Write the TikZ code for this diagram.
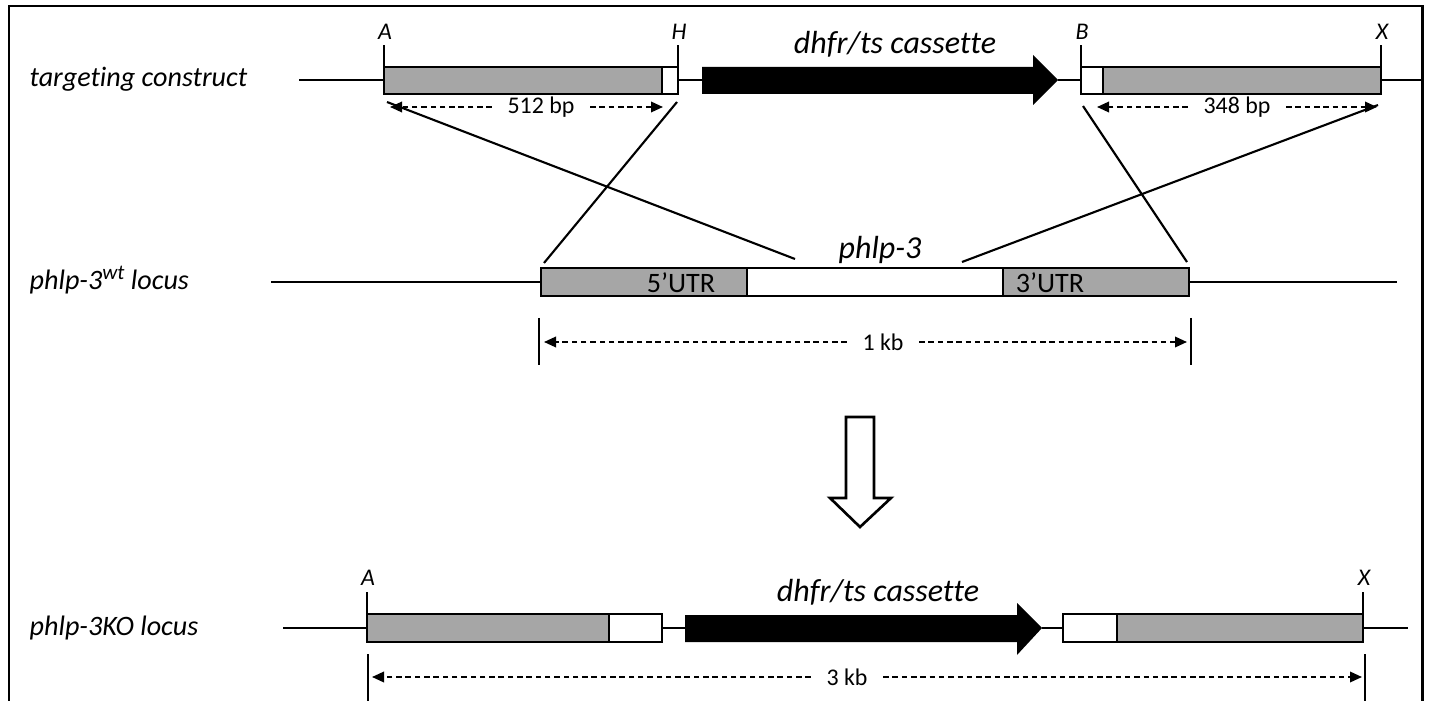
\documentclass[tikz,border=0pt]{standalone}
\usepackage{fontspec}
\setmainfont{Carlito}[Ligatures=NoCommon]
\usetikzlibrary{arrows.meta}
\definecolor{homgray}{RGB}{166,166,166}

\tikzset{
  dna/.style={line width=0.6pt},
  hom/.style={draw, line width=0.6pt, fill=homgray},
  utr/.style={draw, line width=0.6pt, fill=white},
  dimline/.style={line width=0.55pt, dash pattern=on 0.55mm off 0.38mm, -{Triangle[length=1.2mm,width=1.05mm]}},
  rowlabel/.style={anchor=west, inner sep=0pt, font=\fontsize{8pt}{9pt}\selectfont\itshape},
  biglabel/.style={inner sep=0pt, font=\fontsize{9.1pt}{10pt}\selectfont\itshape},
  sitelabel/.style={inner sep=0pt, font=\fontsize{6.8pt}{7pt}\selectfont\itshape},
  sizelabel/.style={inner xsep=1.5mm, inner ysep=0pt, font=\fontsize{6.8pt}{7pt}\selectfont},
  utrlabel/.style={inner sep=0pt, font=\fontsize{8pt}{9pt}\selectfont}
}

\begin{document}
\begin{tikzpicture}[x=0.1mm, y=-0.1mm]
  \useasboundingbox (0,0) rectangle (1430,701);
  % frame
  \draw[line width=0.85pt] (9,720) -- (9,6) -- (1422,6) -- (1422,720);

  % row labels
  \node[rowlabel] (lcon) at (29,79) {targeting construct};
  \node[rowlabel] (lwt) at (29,280) {phlp-3\textsuperscript{wt}\,locus};
  \node[rowlabel] (lko) at (29,628) {phlp-3KO locus};

  % targeting construct
  \draw[dna] (299,80) -- (384,80);
  \draw[dna] (678,80) -- (702,80);
  \draw[dna] (1058,80) -- (1081,80);
  \draw[dna] (1381,80) -- (1422,80);
  \draw[hom] (384,67) rectangle (662,94);
  \draw[utr] (662,67) rectangle (678,94);
  \draw[utr] (1081,67) rectangle (1103,94);
  \draw[hom] (1103,67) rectangle (1381,94);
  \fill (702,67) -- (1033,67) -- (1033,55) -- (1058,80) -- (1033,105) -- (1033,94) -- (702,94) -- cycle;
  \node[biglabel] (cas1) at (895,44) {dhfr/ts cassette};
  \foreach \x/\s in {384/A, 678/H, 1081/B, 1381/X} {
    \draw[dna] (\x,67) -- (\x,45);
    \node[sitelabel] at (\x+1,32) {\s};
  }
  \node[sizelabel] (d512) at (541,107) {512 bp};
  \draw[dimline] (d512.west) -- (390,107);
  \draw[dimline] (d512.east) -- (663,107);
  \node[sizelabel] (d348) at (1237,107) {348 bp};
  \draw[dimline] (d348.west) -- (1097,107);
  \draw[dimline] (d348.east) -- (1377,107);

  % crossover lines
  \coordinate (A1) at (387,102);
  \coordinate (H1) at (677,102);
  \coordinate (B1) at (1083,106);
  \coordinate (X1) at (1378,105);
  \coordinate (A2) at (795,259);
  \coordinate (H2) at (544,263);
  \coordinate (B2) at (1187,262);
  \coordinate (X2) at (962,262);
  \draw[dna] (A1) -- (A2);
  \draw[dna] (H1) -- (H2);
  \draw[dna] (B1) -- (B2);
  \draw[dna] (X1) -- (X2);

  % wild type locus
  \draw[dna] (271,282) -- (541,282);
  \draw[dna] (1189,282) -- (1397,282);
  \draw[hom] (541,268) rectangle (747,296);
  \draw[utr] (747,268) rectangle (1003,296);
  \draw[hom] (1003,268) rectangle (1189,296);
  \node[utrlabel] (u5) at (681,283) {5’UTR};
  \node[utrlabel] (u3) at (1050,283) {3’UTR};
  \node[biglabel] (gene) at (880,250) {phlp-3};
  \draw[dna] (539,318) -- (539,365);
  \draw[dna] (1191,318) -- (1191,365);
  \node[sizelabel] (d1kb) at (883,342) {1 kb};
  \draw[dimline] (d1kb.west) -- (544,342);
  \draw[dimline] (d1kb.east) -- (1187,342);

  % recombination arrow
  \draw[line width=0.75pt, fill=white] (846,417) -- (874,417) -- (874,498) -- (891,498)
    -- (860,527) -- (830,498) -- (846,498) -- cycle;

  % knockout locus
  \draw[dna] (283,628) -- (367,628);
  \draw[dna] (662,628) -- (685,628);
  \draw[dna] (1042,628) -- (1063,628);
  \draw[dna] (1363,628) -- (1408,628);
  \draw[hom] (367,614) rectangle (609,642);
  \draw[utr] (609,614) rectangle (662,642);
  \draw[utr] (1063,614) rectangle (1117,642);
  \draw[hom] (1117,614) rectangle (1363,642);
  \fill (685,615) -- (1017,615) -- (1017,603) -- (1042,628) -- (1017,655) -- (1017,642) -- (685,642) -- cycle;
  \node[biglabel] (cas2) at (878,592) {dhfr/ts cassette};
  \foreach \x/\s in {367/A, 1363/X} {
    \draw[dna] (\x,614) -- (\x,592);
    \node[sitelabel] at (\x+1,578) {\s};
  }
  \draw[dna] (368,654) -- (368,710);
  \draw[dna] (1365,654) -- (1365,710);
  \node[sizelabel] (d3kb) at (847,677) {3 kb};
  \draw[dimline] (d3kb.west) -- (372,677);
  \draw[dimline] (d3kb.east) -- (1362,677);
\end{tikzpicture}
\end{document}
